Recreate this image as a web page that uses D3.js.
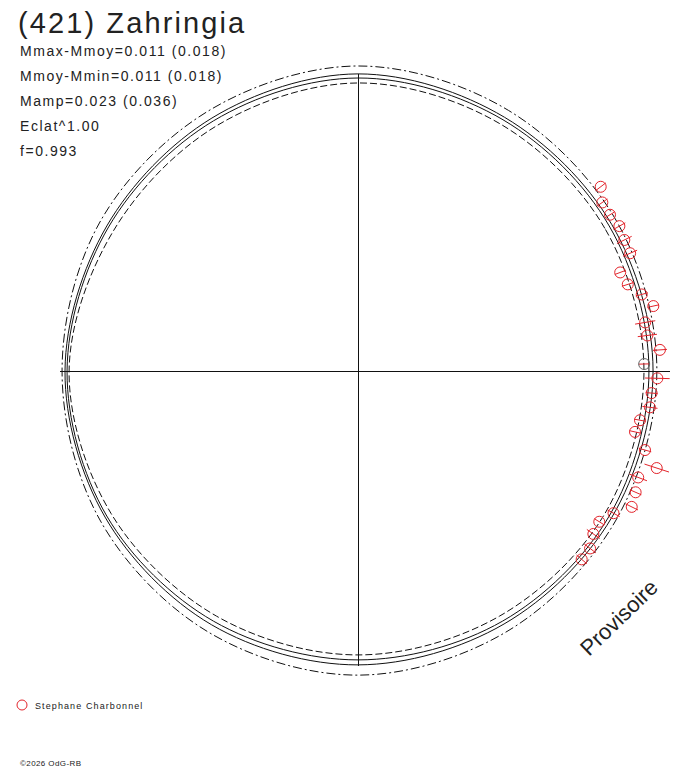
<!DOCTYPE html>
<html>
<head>
<meta charset="utf-8">
<script src="https://cdn.jsdelivr.net/npm/d3@7"></script>
<style>
  body { margin: 0; background: #fff; }
  text { font-family: "Liberation Sans", Arial, sans-serif; fill: #222; }
</style>
</head>
<body>
<div id="vis"></div>
<script>
// model curves: relative radius every 30 deg of phase (0 = right, counter-clockwise)
const curveAngles = [0, 30, 60, 90, 120, 150, 180, 210, 240, 270, 300, 330];
const solidOuter = [1.007, 1.000, 1.000, 1.014, 0.997, 0.990, 1.000, 0.997, 1.000, 1.003, 0.997, 1.000];
const solidInner = [0.993, 0.990, 0.990, 1.000, 0.986, 0.983, 0.993, 0.990, 0.986, 0.986, 0.986, 0.990];
const dashOuter = [1.020, 1.020, 1.027, 1.041, 1.024, 1.017, 1.010, 1.017, 1.027, 1.038, 1.024, 1.017];
const dashInner = [0.976, 0.973, 0.973, 0.983, 0.966, 0.962, 0.986, 0.973, 0.966, 0.969, 0.966, 0.973];

// observations (Stephane Charbonnel)
const obsPhase = [37.2, 34.6, 31.8, 29.0, 26.2, 23.4, 20.6, 17.8, 15.1, 12.4, 9.6, 7.0, 4.0, 1.4,
  358.6, 355.7, 352.9, 350.1, 347.6, 344.6, 342.0, 339.2, 336.4, 333.6, 330.9, 328.0, 325.3, 322.6, 319.9];
const obsFlux = [1.040, 1.013, 1.012, 1.020, 1.013, 1.012, 0.956, 0.967, 1.003, 1.032, 0.994, 0.995, 1.033, 0.977,
  1.022, 1.005, 1.004, 0.977, 0.968, 1.016, 1.072, 1.023, 1.034, 1.043, 0.998, 0.971, 0.977, 0.997, 0.998];
const obsErr = [0.022, 0.021, 0.019, 0.023, 0.028, 0.026, 0.019, 0.021, 0.021, 0.020, 0.035, 0.033, 0.024, 0.019,
  0.042, 0.020, 0.026, 0.019, 0.019, 0.022, 0.044, 0.032, 0.021, 0.024, 0.024, 0.020, 0.027, 0.025, 0.023];

const infoLines = ["Mmax-Mmoy=0.011 (0.018)", "Mmoy-Mmin=0.011 (0.018)", "Mamp=0.023 (0.036)", "Eclat^1.00", "f=0.993"];

const width = 688, height = 768;
const cx = 358, cy = 371;
const red = "#e3242b";

const svg = d3.select("#vis").append("svg")
  .attr("width", width).attr("height", height);

const r = d3.scaleLinear().domain([0, 1]).range([0, 293]);
const rad = (deg) => deg * Math.PI / 180;

const g = svg.append("g").attr("transform", `translate(${cx},${cy})`);

// axes
g.append("line").attr("x1", r(-1.017)).attr("x2", r(1.065)).attr("y1", 0.5).attr("y2", 0.5)
  .attr("stroke", "#111").attr("stroke-width", 1).attr("shape-rendering", "crispEdges");
g.append("line").attr("x1", 0.5).attr("x2", 0.5).attr("y1", -r(1.012)).attr("y2", r(1.008))
  .attr("stroke", "#111").attr("stroke-width", 1).attr("shape-rendering", "crispEdges");

const line = d3.lineRadial()
  .angle((d, i) => rad(90 - curveAngles[i]))
  .radius((d) => r(d))
  .curve(d3.curveCatmullRomClosed);

const curves = [
  { v: dashOuter, dash: "9,3,2,3" },
  { v: solidOuter, dash: null },
  { v: solidInner, dash: null },
  { v: dashInner, dash: "7,3" }
];

g.selectAll("path.model")
  .data(curves)
  .join("path")
  .attr("class", "model")
  .attr("d", (d) => line(d.v))
  .attr("fill", "none")
  .attr("stroke", "#111")
  .attr("stroke-width", 1)
  .attr("stroke-dasharray", (d) => d.dash);

const obs = obsPhase.map((p, i) => ({ p: p, f: obsFlux[i], e: obsErr[i] }));
const px = (p, f) => r(f) * Math.cos(rad(p));
const py = (p, f) => -r(f) * Math.sin(rad(p));

g.append("g").selectAll("line")
  .data(obs)
  .join("line")
  .attr("x1", (d) => px(d.p, d.f - d.e)).attr("y1", (d) => py(d.p, d.f - d.e))
  .attr("x2", (d) => px(d.p, d.f + d.e)).attr("y2", (d) => py(d.p, d.f + d.e))
  .attr("stroke", red).attr("stroke-width", 1);

g.append("g").selectAll("circle")
  .data(obs)
  .join("circle")
  .attr("cx", (d) => px(d.p, d.f))
  .attr("cy", (d) => py(d.p, d.f))
  .attr("r", 5.5)
  .attr("fill", "none")
  .attr("stroke", (d, i) => (i === 13 ? "#666" : red))
  .attr("stroke-width", 1);

// texts
svg.append("text").attr("x", 18).attr("y", 33)
  .style("font-size", "29px").style("letter-spacing", "2.1px")
  .text("(421) Zahringia");

svg.append("g").selectAll("text")
  .data(infoLines)
  .join("text")
  .attr("x", 20)
  .attr("y", (d, i) => 56 + i * 25)
  .style("font-size", "14px").style("letter-spacing", "1.55px")
  .text((d) => d);

svg.append("text")
  .attr("transform", "translate(589,657) rotate(-44)")
  .style("font-size", "22px")
  .text("Provisoire");

svg.append("circle").attr("cx", 22).attr("cy", 705).attr("r", 5)
  .attr("fill", "none").attr("stroke", red).attr("stroke-width", 1);
svg.append("text").attr("x", 35).attr("y", 709)
  .style("font-size", "9px").style("letter-spacing", "1.1px")
  .text("Stephane Charbonnel");

svg.append("text").attr("x", 20).attr("y", 766)
  .style("font-size", "8px").style("letter-spacing", "0.4px")
  .text("©2026 OdG-RB");
</script>
</body>
</html>
